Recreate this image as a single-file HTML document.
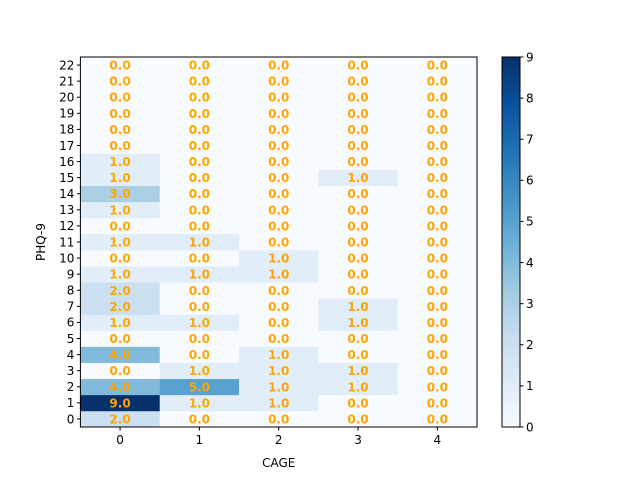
<!DOCTYPE html>
<html><head><meta charset="utf-8"><style>
body{margin:0;background:#fff;font-family:"Liberation Sans","DejaVu Sans",sans-serif;}
svg text{font-family:"DejaVu Sans","Liberation Sans",sans-serif;}
</style></head><body>
<svg id="chart" width="640" height="480"></svg>
<script>
const cols=[0,1,2,3,4];
const rows=[0,1,2,3,4,5,6,7,8,9,10,11,12,13,14,15,16,17,18,19,20,21,22];
const values=[
[2,0,0,0,0],
[9,1,1,0,0],
[4,5,1,1,0],
[0,1,1,1,0],
[4,0,1,0,0],
[0,0,0,0,0],
[1,1,0,1,0],
[2,0,0,1,0],
[2,0,0,0,0],
[1,1,1,0,0],
[0,0,1,0,0],
[1,1,0,0,0],
[0,0,0,0,0],
[1,0,0,0,0],
[3,0,0,0,0],
[1,0,0,1,0],
[1,0,0,0,0],
[0,0,0,0,0],[0,0,0,0,0],[0,0,0,0,0],[0,0,0,0,0],[0,0,0,0,0],[0,0,0,0,0]];
const cbTicks=[0,1,2,3,4,5,6,7,8,9];
const vmin=0,vmax=9;
const NS='http://www.w3.org/2000/svg';
const svg=document.getElementById('chart');
function mk(t,a,p){const e=document.createElementNS(NS,t);for(const k in a)e.setAttribute(k,a[k]);(p||svg).appendChild(e);return e;}
const L=80.4,R=477,T=57,B=427;
const cw=(R-L)/cols.length, rh=(B-T)/rows.length;
const xc=i=>L+(i+0.5)*cw;
const yc=j=>B-(j+0.5)*rh;
const stops=["#f7fbff","#deebf7","#c6dbef","#9ecae1","#6baed6","#4292c6","#2171b5","#08519c","#08306b"];
function hex(h){return [1,3,5].map(i=>parseInt(h.substr(i,2),16));}
function cmap(v){let t=(v-vmin)/(vmax-vmin);t=Math.max(0,Math.min(1,t));const p=t*8,i=Math.min(7,Math.floor(p)),f=p-i;const a=hex(stops[i]),b=hex(stops[i+1]);return 'rgb('+a.map((x,k)=>Math.round(x+(b[k]-x)*f)).join(',')+')';}
rows.forEach((r,j)=>cols.forEach((c,i)=>{
 const v=values[j][i];
 const rc=mk('rect',{x:L+i*cw,y:B-(j+1)*rh,width:cw+0.3,height:rh+0.3,fill:cmap(v)});
 
 
 const tx=mk('text',{x:xc(i),y:yc(j)+4.5,'text-anchor':'middle','font-size':'12','font-weight':'bold',fill:'#ffa500'});
 tx.textContent=v.toFixed(1);
 
 
}));
mk('rect',{x:L,y:T,width:R-L,height:B-T,fill:'none',stroke:'#000','stroke-width':1});
cols.forEach((c,i)=>{mk('line',{x1:xc(i),x2:xc(i),y1:B,y2:B+3.5,stroke:'#000'});
 const t=mk('text',{x:xc(i),y:B+17,'text-anchor':'middle','font-size':'12'});t.textContent=c;
 });
rows.forEach((r,j)=>{mk('line',{x1:L,x2:L-3.5,y1:yc(j),y2:yc(j),stroke:'#000'});
 const t=mk('text',{x:L-6,y:yc(j)+4.3,'text-anchor':'end','font-size':'12'});t.textContent=r;
 });
const xt=mk('text',{x:(L+R)/2,y:467,'text-anchor':'middle','font-size':'12'});xt.textContent='CAGE';

const yt=mk('text',{x:45,y:(T+B)/2,'text-anchor':'middle','font-size':'12',transform:'rotate(-90 45 '+(T+B)/2+')'});yt.textContent='PHQ-9';

// colorbar
const CL=502,CR=520;
const g=mk('defs',{});const lg=mk('linearGradient',{id:'cb',x1:0,y1:1,x2:0,y2:0},g);
stops.forEach((s,i)=>mk('stop',{offset:i/8,'stop-color':s},lg));
const cb=mk('rect',{x:CL,y:T,width:CR-CL,height:B-T,fill:'url(#cb)',stroke:'#000'});

cbTicks.forEach(v=>{const y=B-(v-vmin)/(vmax-vmin)*(B-T);
 mk('line',{x1:CR,x2:CR+3.5,y1:y,y2:y,stroke:'#000'});
 const t=mk('text',{x:CR+6,y:y+4.3,'font-size':'12'});t.textContent=v;
 });
</script>
</body></html>
